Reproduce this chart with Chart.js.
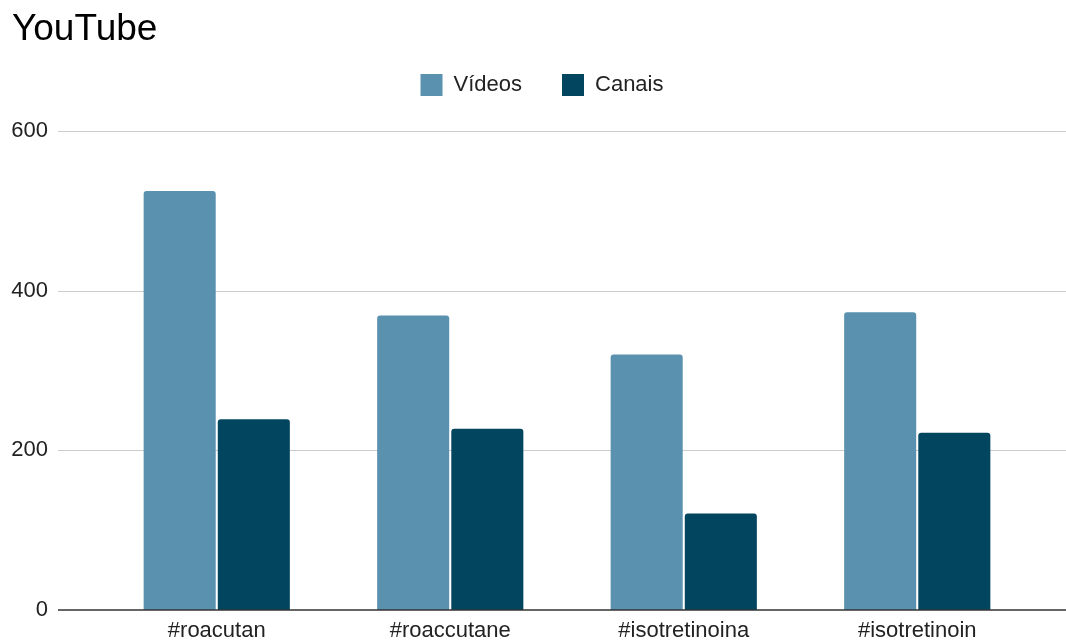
<!DOCTYPE html>
<html>
<head>
<meta charset="utf-8">
<script src="https://cdn.jsdelivr.net/npm/chart.js@4/dist/chart.umd.min.js"></script>
<style>
    html, body { margin: 0; padding: 0; background: #fff; }
</style>
</head>
<body>
<canvas id="myChart" width="1066" height="641"></canvas>
<script>
'use strict';

let categories = ['#roacutan', '#roaccutane', '#isotretinoina', '#isotretinoin'];
let videos = [525, 369, 320, 373];
let canais = [239, 227, 121, 222];
let yTicks = [0, 200, 400, 600];

let font = '"Liberation Sans", Arial, sans-serif';

// google-style grid: lines run past the plot area to the left edge
let gridPlugin = {
    id: 'sheetGrid',
    afterLayout: function(chart) {
        // legend sits a bit right of centre in the original
        chart.legend.left += 20;
        chart.legend.right += 20;
        chart.titleBlock.left += 2;
        chart.titleBlock.right += 2;
    },
    beforeDatasetsDraw: function(chart) {
        let ctx = chart.ctx;
        let y = chart.scales.y;
        ctx.save();
        ctx.strokeStyle = '#cccccc';
        ctx.lineWidth = 1;
        for (let i = 0; i < yTicks.length; i++) {
            if (yTicks[i] == 0) continue;
            let py = Math.round(y.getPixelForValue(yTicks[i])) + 0.5;
            ctx.beginPath();
            ctx.moveTo(58, py);
            ctx.lineTo(chart.width, py);
            ctx.stroke();
        }
        ctx.restore();
    },
    afterDatasetsDraw: function(chart) {
        let ctx = chart.ctx;
        let py = chart.scales.y.getPixelForValue(0);
        ctx.save();
        ctx.strokeStyle = '#333333';
        ctx.lineWidth = 1.6;
        ctx.beginPath();
        ctx.moveTo(58, py);
        ctx.lineTo(chart.width, py);
        ctx.stroke();
        ctx.restore();
    }
};

document.addEventListener('DOMContentLoaded', function() {
    drawChart();
});

function drawChart() {
    let ctx = document.getElementById('myChart').getContext('2d');
    let chart = new Chart(ctx, {
        type: 'bar',
        data: {
            labels: categories,
            datasets: [{
                label: 'Vídeos',
                data: videos,
                backgroundColor: '#5a91ae',
                borderRadius: 3,
                categoryPercentage: 0.635,
                barPercentage: 0.972
            }, {
                label: 'Canais',
                data: canais,
                backgroundColor: '#02455f',
                borderRadius: 3,
                categoryPercentage: 0.635,
                barPercentage: 0.972
            }]
        },
        options: {
            responsive: false,
            animation: false,
            layout: {
                padding: { left: 10, right: 32, top: 0, bottom: 0 }
            },
            plugins: {
                title: {
                    display: true,
                    text: 'YouTube',
                    align: 'start',
                    color: '#000',
                    font: { family: font, size: 37, weight: 'normal', lineHeight: 1 },
                    padding: { top: 11, bottom: -14 }
                },
                subtitle: {
                    // empty spacer between legend and plot
                    display: true,
                    text: '',
                    weight: 500,
                    font: { size: 10, lineHeight: 1 },
                    padding: { top: 15, bottom: 0 }
                },
                legend: {
                    display: true,
                    position: 'top',
                    labels: {
                        color: '#222',
                        font: { family: font, size: 22 },
                        boxWidth: 22,
                        boxHeight: 22,
                        padding: 40
                    }
                },
                tooltip: { enabled: false }
            },
            scales: {
                x: {
                    grid: { display: false, drawTicks: false },
                    border: { display: false },
                    ticks: {
                        color: '#222',
                        font: { family: font, size: 22, lineHeight: 1 },
                        padding: 10,
                        maxRotation: 0
                    },
                    afterFit: function(scale) {
                        scale.height = 31;
                    }
                },
                y: {
                    min: 0,
                    max: 600,
                    afterBuildTicks: function(scale) {
                        scale.ticks = yTicks.map(function(v) { return { value: v }; });
                    },
                    grid: { display: false, drawTicks: false },
                    border: { display: false },
                    ticks: {
                        color: '#222',
                        font: { family: font, size: 22 },
                        padding: 52
                    },
                    afterFit: function(scale) {
                        scale.width = 90;
                        // the big label gap should not eat into the plot height
                        scale.paddingTop = 13;
                        scale.paddingBottom = 13;
                    }
                }
            }
        },
        plugins: [gridPlugin]
    });
}
</script>
</body>
</html>
